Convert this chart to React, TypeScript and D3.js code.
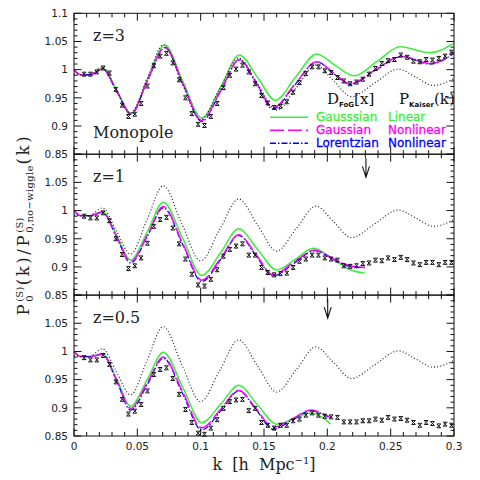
import React, { useEffect, useRef } from 'react';
import * as d3 from 'd3';

// k bins of the measured points (h/Mpc)
const K_BINS = [
  0.008, 0.013, 0.018, 0.023, 0.028, 0.033, 0.038, 0.043, 0.048, 0.053,
  0.058, 0.063, 0.068, 0.073, 0.078, 0.083, 0.088, 0.093, 0.098, 0.103,
  0.108, 0.113, 0.118, 0.123, 0.128, 0.133, 0.138, 0.143, 0.148, 0.153,
  0.158, 0.163, 0.168, 0.173, 0.178, 0.183, 0.188, 0.193, 0.198, 0.203,
  0.208, 0.213, 0.218, 0.223, 0.228, 0.233, 0.238, 0.243, 0.248, 0.253,
  0.258, 0.263, 0.268, 0.273, 0.278, 0.283, 0.288, 0.293, 0.298,
];

// measured ratios
const DATA_Z3 = [
  0.992, 0.992, 0.996, 1.003, 0.994, 0.965, 0.937, 0.917, 0.921, 0.940,
  0.971, 1.007, 1.024, 1.029, 1.012, 0.982, 0.950, 0.922, 0.903, 0.901,
  0.917, 0.940, 0.968, 0.990, 1.001, 1.008, 0.996, 0.975, 0.954, 0.941,
  0.933, 0.935, 0.943, 0.960, 0.977, 0.993, 1.005, 1.005, 0.998, 0.995,
  0.986, 0.980, 0.975, 0.978, 0.983, 0.992, 1.002, 1.011, 1.016, 1.018,
  1.026, 1.022, 1.015, 1.014, 1.018, 1.017, 1.020, 1.024, 1.031,
];
const DATA_Z1 = [
  0.990, 0.987, 0.987, 0.996, 0.982, 0.950, 0.922, 0.897, 0.902, 0.916,
  0.942, 0.972, 0.984, 0.988, 0.969, 0.941, 0.914, 0.887, 0.868, 0.866,
  0.878, 0.895, 0.919, 0.931, 0.937, 0.941, 0.921, 0.921, 0.899, 0.890,
  0.886, 0.888, 0.889, 0.899, 0.910, 0.914, 0.921, 0.921, 0.916, 0.914,
  0.912, 0.902, 0.901, 0.902, 0.906, 0.907, 0.912, 0.911, 0.916, 0.913,
  0.917, 0.913, 0.907, 0.904, 0.908, 0.908, 0.904, 0.908, 0.908,
];
const DATA_Z05 = [
  0.989, 0.985, 0.985, 0.993, 0.977, 0.946, 0.915, 0.889, 0.894, 0.906,
  0.930, 0.959, 0.968, 0.971, 0.952, 0.924, 0.897, 0.874, 0.855, 0.853,
  0.864, 0.879, 0.899, 0.911, 0.914, 0.915, 0.895, 0.899, 0.874, 0.869,
  0.864, 0.869, 0.869, 0.877, 0.880, 0.887, 0.891, 0.887, 0.885, 0.884,
  0.883, 0.875, 0.875, 0.875, 0.877, 0.877, 0.880, 0.878, 0.883, 0.880,
  0.881, 0.878, 0.874, 0.869, 0.874, 0.872, 0.868, 0.871, 0.869,
];
const DATA_ERR = 0.0035;

// model curves, [k, ratio] knots
const KAISER = [
  [0, 0.992], [0.012, 0.991], [0.0224, 1.0047], [0.0335, 0.964], [0.0447, 0.923],
  [0.0576, 0.9835], [0.0705, 1.044], [0.085, 0.9775], [0.1, 0.911], [0.115, 0.966],
  [0.13, 1.0206], [0.145, 0.974], [0.16, 0.928], [0.1755, 0.968], [0.191, 1.008],
  [0.205, 0.98], [0.219, 0.952], [0.2375, 0.9765], [0.256, 1.001], [0.27, 0.9865],
  [0.2835, 0.972], [0.3, 0.984],
];

const GAUSS_LIN_Z3 = [
  [0, 1.0], [0.005, 0.991], [0.013, 0.991], [0.0226, 1.002], [0.034, 0.962], [0.045, 0.922],
  [0.058, 0.983], [0.0718, 1.0437], [0.086, 0.979], [0.1008, 0.914], [0.116, 0.97],
  [0.1305, 1.026], [0.145, 0.986], [0.159, 0.9455], [0.175, 0.987], [0.1916, 1.028],
  [0.206, 1.008], [0.2215, 0.989], [0.2395, 1.015], [0.2574, 1.0407], [0.281, 1.03],
  [0.3, 1.047],
];
const GAUSS_NL_Z3 = [
  [0, 1.0], [0.005, 0.991], [0.013, 0.991], [0.0226, 1.001], [0.034, 0.961], [0.045, 0.922],
  [0.058, 0.981], [0.0718, 1.0396], [0.086, 0.975], [0.1008, 0.91], [0.116, 0.964],
  [0.1305, 1.018], [0.144, 0.977], [0.157, 0.932], [0.174, 0.973], [0.1916, 1.014],
  [0.205, 0.994], [0.218, 0.975], [0.238, 1.0], [0.2587, 1.024], [0.281, 1.011],
  [0.3, 1.03],
];
const LORENTZ_NL_Z3 = [
  [0, 1.0], [0.005, 0.991], [0.013, 0.991], [0.0226, 1.001], [0.034, 0.96], [0.045, 0.921],
  [0.058, 0.98], [0.0718, 1.039], [0.086, 0.974], [0.1008, 0.908], [0.116, 0.963],
  [0.1305, 1.017], [0.144, 0.975], [0.157, 0.93], [0.174, 0.972], [0.1916, 1.014],
  [0.205, 0.993], [0.218, 0.974], [0.238, 0.999], [0.2587, 1.023], [0.281, 1.01],
  [0.3, 1.029],
];

const GAUSS_LIN_Z1 = [
  [0, 1.0], [0.005, 0.991], [0.013, 0.991], [0.0224, 0.998], [0.034, 0.955], [0.0447, 0.912],
  [0.058, 0.963], [0.0705, 1.0147], [0.086, 0.95], [0.1008, 0.885], [0.116, 0.926],
  [0.13, 0.9676], [0.145, 0.931], [0.16, 0.8946], [0.175, 0.914], [0.189, 0.933],
  [0.205, 0.913], [0.218, 0.895], [0.2297, 0.889],
];
const GAUSS_NL_Z1 = [
  [0, 1.0], [0.005, 0.991], [0.013, 0.991], [0.0224, 0.997], [0.034, 0.952], [0.0447, 0.909],
  [0.058, 0.957], [0.0705, 1.007], [0.086, 0.941], [0.1008, 0.8765], [0.116, 0.916],
  [0.13, 0.957], [0.144, 0.921], [0.157, 0.886], [0.174, 0.909], [0.19, 0.93],
  [0.205, 0.914], [0.218, 0.902], [0.2297, 0.899],
];
const LORENTZ_NL_Z1 = [
  [0, 1.0], [0.005, 0.991], [0.013, 0.991], [0.0224, 0.997], [0.034, 0.951], [0.0447, 0.907],
  [0.058, 0.955], [0.0705, 1.005], [0.086, 0.939], [0.1008, 0.874], [0.116, 0.914],
  [0.13, 0.956], [0.144, 0.919], [0.157, 0.884], [0.174, 0.907], [0.19, 0.929],
  [0.205, 0.913], [0.218, 0.901], [0.2297, 0.899],
];

const GAUSS_LIN_Z05 = [
  [0, 1.0], [0.005, 0.991], [0.013, 0.991], [0.0224, 0.996], [0.034, 0.95], [0.0447, 0.903],
  [0.058, 0.951], [0.0705, 0.9988], [0.086, 0.936], [0.1008, 0.8735], [0.116, 0.907],
  [0.13, 0.94], [0.145, 0.905], [0.16, 0.871], [0.174, 0.881], [0.187, 0.891],
  [0.196, 0.883], [0.2026, 0.871],
];
const GAUSS_NL_Z05 = [
  [0, 1.0], [0.005, 0.991], [0.013, 0.991], [0.0224, 0.995], [0.034, 0.947], [0.0447, 0.899],
  [0.058, 0.945], [0.0705, 0.99], [0.086, 0.927], [0.1008, 0.8647], [0.116, 0.898],
  [0.13, 0.931], [0.144, 0.898], [0.157, 0.865], [0.172, 0.88], [0.187, 0.896],
  [0.196, 0.89], [0.2026, 0.883],
];
const LORENTZ_NL_Z05 = [
  [0, 1.0], [0.005, 0.991], [0.013, 0.991], [0.0224, 0.995], [0.034, 0.946], [0.0447, 0.896],
  [0.058, 0.942], [0.0705, 0.988], [0.086, 0.924], [0.1008, 0.8606], [0.116, 0.895],
  [0.13, 0.93], [0.144, 0.896], [0.157, 0.862], [0.172, 0.878], [0.187, 0.895],
  [0.196, 0.889], [0.2026, 0.882],
];

const PANEL_LABELS = ['z=3', 'z=1', 'z=0.5'];
const ARROW_K = [null, 0.2305, 0.2003];
const LEGEND = [
  { name: 'Gausssian', kind: 'Linear', color: '#3cef3c', dash: null },
  { name: 'Gaussian', kind: 'Nonlinear', color: '#ff00ff', dash: '14,4' },
  { name: 'Lorentzian', kind: 'Nonlinear', color: '#0000ff', dash: '6,2,1.5,2' },
];

const SERIF = "'DejaVu Serif', serif";
const SANS = "'DejaVu Sans', sans-serif";

export default function App() {
  const svgRef = useRef<SVGSVGElement>(null);

  useEffect(() => {
    const svg = d3.select(svgRef.current);
    svg.selectAll('*').remove();

    const left = 74, right = 454, top = 13.3, ph = 140.9;
    const x = d3.scaleLinear().domain([0, 0.3]).range([left, right]);

    const panels = [
      { data: DATA_Z3, models: [GAUSS_LIN_Z3, GAUSS_NL_Z3, LORENTZ_NL_Z3] },
      { data: DATA_Z1, models: [GAUSS_LIN_Z1, GAUSS_NL_Z1, LORENTZ_NL_Z1] },
      { data: DATA_Z05, models: [GAUSS_LIN_Z05, GAUSS_NL_Z05, LORENTZ_NL_Z05] },
    ];

    panels.forEach((p, i) => {
      const y0 = top + i * ph, y1 = top + (i + 1) * ph;
      const y = d3.scaleLinear().domain([0.85, 1.1]).range([y1, y0]);
      const g = svg.append('g');

      g.append('clipPath').attr('id', `clip${i}`)
        .append('rect').attr('x', left).attr('y', y0).attr('width', right - left).attr('height', ph);

      const line = d3.line<number[]>()
        .x(d => x(d[0]))
        .y(d => y(d[1]))
        .curve(d3.curveMonotoneX);

      const curves = g.append('g').attr('clip-path', `url(#clip${i})`).attr('fill', 'none');
      curves.append('path').attr('d', line(p.models[0] as any))
        .attr('stroke', LEGEND[0].color).attr('stroke-width', 1.5);
      curves.append('path').attr('d', line(p.models[2] as any))
        .attr('stroke', LEGEND[2].color).attr('stroke-width', 1.3).attr('stroke-dasharray', LEGEND[2].dash);
      curves.append('path').attr('d', line(p.models[1] as any))
        .attr('stroke', LEGEND[1].color).attr('stroke-width', 1.5).attr('stroke-dasharray', LEGEND[1].dash);
      curves.append('path').attr('d', line(KAISER as any))
        .attr('stroke', '#222').attr('stroke-width', 1.2).attr('stroke-dasharray', '1,2.2');

      // measured points: x marker with error bar caps
      g.append('g').attr('stroke', '#111').attr('stroke-width', 1).attr('fill', 'none')
        .selectAll('path')
        .data(p.data)
        .join('path')
        .attr('d', (v, j) => {
          const cx = x(K_BINS[j]), cy = y(v);
          const hi = y(v + DATA_ERR), lo = y(v - DATA_ERR);
          return `M${cx - 2},${hi}H${cx + 2}M${cx - 2},${lo}H${cx + 2}` +
            `M${cx - 1.8},${cy - 1.8}L${cx + 1.8},${cy + 1.8}M${cx + 1.8},${cy - 1.8}L${cx - 1.8},${cy + 1.8}`;
        });

      // frame
      g.append('rect').attr('x', left).attr('y', y0).attr('width', right - left).attr('height', ph)
        .attr('fill', 'none').attr('stroke', '#111').attr('stroke-width', 1);

      // ticks
      const ticks = g.append('g').attr('stroke', '#111').attr('stroke-width', 1);
      x.ticks(30).forEach(t => {
        const major = Math.abs(t * 20 - Math.round(t * 20)) < 1e-6;
        const len = major ? 7.5 : 4;
        ticks.append('line').attr('x1', x(t)).attr('x2', x(t)).attr('y1', y0).attr('y2', y0 + len);
        ticks.append('line').attr('x1', x(t)).attr('x2', x(t)).attr('y1', y1).attr('y2', y1 - len);
      });
      y.ticks(25).forEach(t => {
        const major = Math.abs(t * 20 - Math.round(t * 20)) < 1e-6;
        const len = major ? 7.5 : 3.5;
        ticks.append('line').attr('x1', left).attr('x2', left + len).attr('y1', y(t)).attr('y2', y(t));
        ticks.append('line').attr('x1', right).attr('x2', right - len).attr('y1', y(t)).attr('y2', y(t));
        if (major && !(i > 0 && t > 1.09)) {
          g.append('text').attr('x', 68).attr('y', y(t)).attr('dy', '0.36em')
            .attr('text-anchor', 'end').attr('font-family', SANS).attr('font-size', 10.5)
            .attr('fill', '#222').text(String(+t.toFixed(2)));
        }
      });

      g.append('text').attr('x', 93).attr('y', y(1.0625) + 6.3).attr('font-family', SERIF)
        .attr('font-size', 16).attr('fill', '#222').text(PANEL_LABELS[i]);

      const ak = ARROW_K[i];
      if (ak !== null) {
        const ax = x(ak), ya = y(1.093), yb = y(1.059);
        g.append('path')
          .attr('d', `M${ax},${ya}V${yb}M${ax - 3.5},${yb - 11}L${ax},${yb}L${ax + 3.5},${yb - 11}`)
          .attr('fill', 'none').attr('stroke', '#111').attr('stroke-width', 1.1);
      }

      if (i === 2) {
        x.ticks(6).forEach(t => {
          g.append('text').attr('x', x(t)).attr('y', y1 + 13.5).attr('text-anchor', 'middle')
            .attr('font-family', SANS).attr('font-size', 10.5).attr('fill', '#222')
            .text(String(+t.toFixed(2)));
        });
      }
    });

    // "Monopole"
    svg.append('text').attr('x', 93).attr('y', 138).attr('font-family', SERIF)
      .attr('font-size', 16).attr('fill', '#222').text('Monopole');

    // D_FoG[x]   P_Kaiser(k)
    const ann = (x0: number, main: string, sub: string, tail: string) => {
      const t = svg.append('text').attr('x', x0).attr('y', 104).attr('font-family', SERIF)
        .attr('font-size', 15).attr('fill', '#111');
      t.append('tspan').text(main);
      t.append('tspan').attr('dy', 3).attr('font-family', SANS).attr('font-weight', 'bold')
        .attr('font-size', 7).text(sub);
      t.append('tspan').attr('dy', -3).text(tail);
    };
    ann(327, 'D', 'FoG', '[x]');
    ann(399, 'P', 'Kaiser', '(k)');

    // legend
    LEGEND.forEach((l, j) => {
      const ly = 117.3 + j * 13;
      svg.append('line').attr('x1', 270).attr('x2', 308).attr('y1', ly).attr('y2', ly)
        .attr('stroke', l.color).attr('stroke-width', 1.5)
        .attr('stroke-dasharray', l.dash);
      svg.append('text').attr('x', 316).attr('y', ly + 3.8).attr('font-family', SANS)
        .attr('font-size', 12).attr('fill', l.color).attr('stroke', l.color)
        .attr('stroke-width', 0.3).text(l.name);
      svg.append('text').attr('x', 388).attr('y', ly + 3.8).attr('font-family', SANS)
        .attr('font-size', 12).attr('fill', l.color).attr('stroke', l.color)
        .attr('stroke-width', 0.3).text(l.kind);
    });

    // x axis title
    const xt = svg.append('text').attr('x', 264).attr('y', 470).attr('text-anchor', 'middle')
      .attr('font-family', SERIF).attr('font-size', 16).attr('fill', '#222')
      .style('white-space', 'pre');
    xt.append('tspan').text('k  [h  Mpc');
    xt.append('tspan').attr('dy', -6).attr('font-size', 10).text('−1');
    xt.append('tspan').attr('dy', 6).text(']');

    // y axis title with stacked scripts
    const yt = svg.append('g')
      .attr('transform', `translate(28.5,${top + 1.5 * ph}) rotate(-90)`)
      .append('text').attr('font-family', SERIF).attr('font-size', 16).attr('fill', '#222');
    const add = (s: string, size: number, dx: number, dy: number, sp: number) => {
      const t = yt.append('tspan').attr('font-size', size).style('letter-spacing', `${sp}px`).text(s);
      if (dx) t.attr('dx', dx);
      if (dy) t.attr('dy', dy);
      return (t.node() as SVGTextContentElement).getComputedTextLength();
    };
    const ls = 2.6;
    add('P', 16.5, 0, 0, ls);
    const w1 = add('(S)', 10, 0, -6, 0.3);
    const w1b = add('0', 10, -w1, 10, 0.3);
    add('(k)/P', 16.5, Math.max(0, w1 - w1b) + 1, -4, ls);
    const w2 = add('(S)', 10, 0, -6, 0.3);
    const w2b = add('0,no−wiggle', 10, -w2, 10, 0.3);
    add('(k)', 16.5, Math.max(0, w2 - w2b) + 1, -4, ls);
    const bb = (yt.node() as SVGGraphicsElement).getBBox();
    yt.attr('x', -(bb.x + bb.width / 2));
  }, []);

  return (
    <svg ref={svgRef} width={480} height={480}
      style={{ position: 'absolute', left: 0, top: 0, background: '#fff' }} />
  );
}
